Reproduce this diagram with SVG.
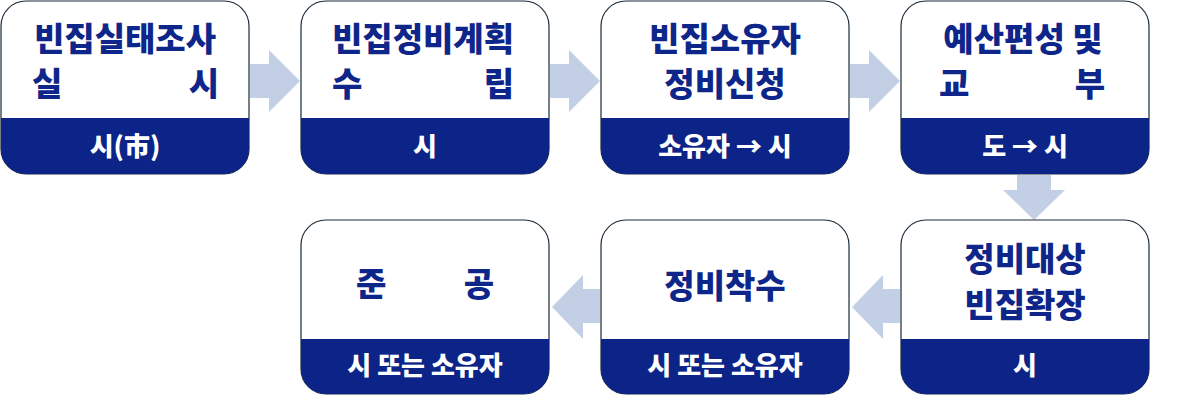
<svg xmlns="http://www.w3.org/2000/svg" width="1200" height="418" viewBox="0 0 1200 418">
<style>
.box{fill:#ffffff;stroke:#1c2b3a;stroke-width:1.2}
.band{fill:#0c2388}
.t{font-family:"Noto Sans CJK KR","Noto Sans",sans-serif;font-weight:900;font-size:33px;fill:#0e268a}
.b{font-family:"Noto Sans CJK KR","Noto Sans",sans-serif;font-weight:900;font-size:26px;fill:#ffffff;text-anchor:middle}
.m{text-anchor:middle}
.e{text-anchor:end}
.arr{fill:#c3cfe5}
</style>
<defs>
<path id="bandTop" d="M0,117 H248 V148 A25,25 0 0 1 223,173 H25 A25,25 0 0 1 0,148 Z"/>
<path id="bandBot" d="M0,119 H248 V149 A25,25 0 0 1 223,174 H25 A25,25 0 0 1 0,149 Z"/>
</defs>
<g id="connectors">
<polygon class="arr" points="250,64 269,64 269,50 300,81 269,112 269,98 250,98"/>
<polygon class="arr" points="550,64 569,64 569,50 600,81 569,112 569,98 550,98"/>
<polygon class="arr" points="850,64 869,64 869,50 900,81 869,112 869,98 850,98"/>
<polygon class="arr" points="1017,175 1051,175 1051,190 1065,190 1034,220 1003,190 1017,190"/>
<polygon class="arr" points="900,289 883,289 883,275 852,307 883,339 883,323 900,323"/>
<polygon class="arr" points="600,289 583,289 583,275 552,307 583,339 583,323 600,323"/>
</g>
<g id="node1" transform="translate(1,1)">
<rect class="box" x="0" y="0" width="248" height="173" rx="25"/>
<use href="#bandTop" class="band"/>
<text class="t m" x="124" y="50">빈집실태조사</text>
<text class="t" x="31" y="95">실</text>
<text class="t e" x="218" y="95">시</text>
<text class="b" x="124" y="155">시(市)</text>
</g>
<g id="node2" transform="translate(301,1)">
<rect class="box" x="0" y="0" width="248" height="173" rx="25"/>
<use href="#bandTop" class="band"/>
<text class="t m" x="122" y="50">빈집정비계획</text>
<text class="t" x="31" y="95">수</text>
<text class="t e" x="213" y="95">립</text>
<text class="b" x="124" y="155">시</text>
</g>
<g id="node3" transform="translate(601,1)">
<rect class="box" x="0" y="0" width="248" height="173" rx="25"/>
<use href="#bandTop" class="band"/>
<text class="t m" x="124" y="50">빈집소유자</text>
<text class="t m" x="124" y="95">정비신청</text>
<text class="b" x="124" y="155">소유자 → 시</text>
</g>
<g id="node4" transform="translate(901,1)">
<rect class="box" x="0" y="0" width="248" height="173" rx="25"/>
<use href="#bandTop" class="band"/>
<text class="t m" x="122" y="50">예산편성 및</text>
<text class="t" x="38" y="95">교</text>
<text class="t e" x="204" y="95">부</text>
<text class="b" x="124" y="155">도 → 시</text>
</g>
<g id="node5" transform="translate(901,220)">
<rect class="box" x="0" y="0" width="248" height="174" rx="25"/>
<use href="#bandBot" class="band"/>
<text class="t m" x="124" y="51">정비대상</text>
<text class="t m" x="124" y="97">빈집확장</text>
<text class="b" x="124" y="155">시</text>
</g>
<g id="node6" transform="translate(601,220)">
<rect class="box" x="0" y="0" width="248" height="174" rx="25"/>
<use href="#bandBot" class="band"/>
<text class="t m" x="124" y="78">정비착수</text>
<text class="b" x="124" y="155">시 또는 소유자</text>
</g>
<g id="node7" transform="translate(301,220)">
<rect class="box" x="0" y="0" width="248" height="174" rx="25"/>
<use href="#bandBot" class="band"/>
<text class="t" x="55" y="76">준</text>
<text class="t e" x="193" y="76">공</text>
<text class="b" x="124" y="155">시 또는 소유자</text>
</g>
</svg>
